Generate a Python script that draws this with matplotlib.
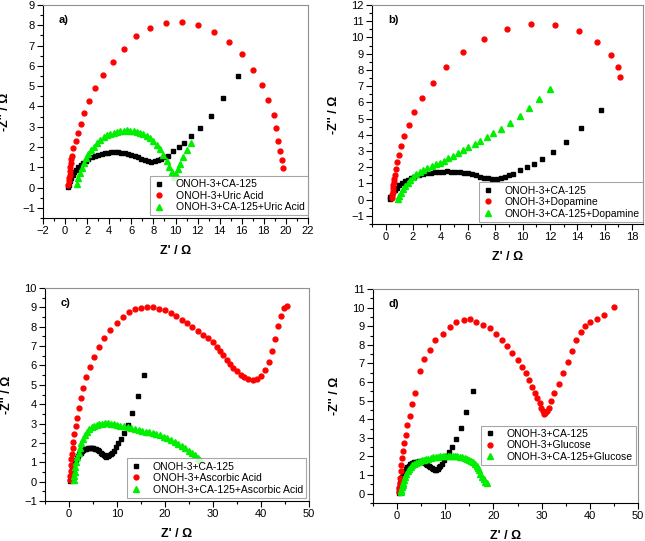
import matplotlib
matplotlib.use("Agg")
import matplotlib.pyplot as plt
from matplotlib.ticker import MultipleLocator

plt.rcParams['font.family'] = ['Liberation Sans', 'DejaVu Sans']

# ONOH-3+CA-125 (same curve in all four panels)
ca_x = [0.3, 0.35, 0.45, 0.55, 0.7, 0.85, 1.0, 1.2, 1.4, 1.6, 1.85, 2.1, 2.4, 2.7, 3.0, 3.3, 3.6, 3.9,
        4.2, 4.5, 4.8, 5.1, 5.4, 5.7, 6.0, 6.3, 6.6, 6.9, 7.2, 7.5, 7.8, 8.1, 8.4, 8.7, 9.0, 9.3,
        9.8, 10.3, 10.8, 11.4, 12.2, 13.2, 14.3, 15.7]
ca_y = [0.05, 0.15, 0.3, 0.45, 0.6, 0.75, 0.88, 1.0, 1.12, 1.22, 1.32, 1.42, 1.5, 1.57, 1.63, 1.67, 1.7, 1.72,
        1.73, 1.74, 1.73, 1.72, 1.7, 1.67, 1.62, 1.56, 1.49, 1.42, 1.36, 1.31, 1.28, 1.3, 1.35, 1.42, 1.5, 1.58,
        1.8, 2.0, 2.22, 2.52, 2.95, 3.55, 4.4, 5.5]

# a) uric acid
ua_x = [0.3, 0.33, 0.37, 0.4, 0.43, 0.47, 0.5, 0.55, 0.6, 0.75, 0.95, 1.15, 1.4, 1.75, 2.2, 2.75, 3.4,
        4.3, 5.3, 6.4, 7.7, 9.1, 10.6, 12.05, 13.5, 14.8, 16.0, 17.0, 17.8, 18.4, 18.9, 19.1, 19.3, 19.45,
        19.6, 19.75]
ua_y = [0.15, 0.3, 0.45, 0.6, 0.8, 1.0, 1.2, 1.4, 1.58, 1.96, 2.32, 2.71, 3.15, 3.69, 4.27, 4.89, 5.55,
        6.2, 6.85, 7.46, 7.86, 8.11, 8.14, 7.99, 7.65, 7.18, 6.56, 5.81, 5.04, 4.3, 3.57, 2.92, 2.32, 1.81,
        1.37, 0.96]
caua_x = [1.1, 1.2, 1.35, 1.5, 1.7, 1.9, 2.1, 2.35, 2.6, 2.9, 3.2, 3.5, 3.8, 4.1, 4.4, 4.7, 5.0, 5.3, 5.6,
          5.9, 6.2, 6.5, 6.8, 7.1, 7.4, 7.7, 8.0, 8.3, 8.6, 8.9, 9.2, 9.45, 9.65, 9.85, 9.95, 10.05, 10.25,
          10.45, 10.7, 11.0, 11.4]
caua_y = [0.2, 0.45, 0.7, 0.95, 1.2, 1.45, 1.65, 1.85, 2.02, 2.2, 2.35, 2.47, 2.57, 2.65, 2.71, 2.76, 2.79,
          2.81, 2.82, 2.81, 2.79, 2.76, 2.71, 2.64, 2.55, 2.44, 2.3, 2.12, 1.9, 1.63, 1.3, 1.0, 0.75, 0.55,
          0.5, 0.65, 0.9, 1.15, 1.5, 1.85, 2.2]

# b) dopamine
dop_x = [0.45, 0.47, 0.5, 0.52, 0.55, 0.58, 0.62, 0.68, 0.75, 0.85, 0.97, 1.14, 1.36, 1.68, 2.09, 2.68,
         3.45, 4.43, 5.67, 7.15, 8.83, 10.65, 12.4, 14.1, 15.45, 16.45, 17.0, 17.1]
dop_y = [0.1, 0.3, 0.5, 0.7, 0.9, 1.1, 1.3, 1.54, 1.9, 2.3, 2.77, 3.32, 3.9, 4.6, 5.39, 6.26,
         7.2, 8.16, 9.09, 9.89, 10.5, 10.81, 10.77, 10.4, 9.7, 8.92, 8.16, 7.59]
cadop_x = [0.9, 1.0, 1.12, 1.27, 1.42, 1.6, 1.8, 2.0, 2.25, 2.5, 2.75, 3.05, 3.35, 3.65, 3.95, 4.26, 4.57,
           4.91, 5.3, 5.67, 6.03, 6.5, 6.89, 7.42, 7.86, 8.42, 9.07, 9.78, 10.46, 11.2, 12.0]
cadop_y = [0.05, 0.22, 0.43, 0.64, 0.85, 1.05, 1.24, 1.4, 1.56, 1.7, 1.83, 1.95, 2.06, 2.17, 2.28, 2.38,
           2.54, 2.71, 2.87, 3.04, 3.24, 3.43, 3.63, 3.86, 4.1, 4.37, 4.72, 5.17, 5.64, 6.19, 6.81]

# c) ascorbic acid
asc_x = [0.25, 0.3, 0.35, 0.4, 0.5, 0.6, 0.75, 0.9, 1.1, 1.4, 1.7, 2.1, 2.5, 3.0, 3.6, 4.4, 5.3, 6.3,
         7.3, 8.6, 10.0, 11.3, 12.5, 13.8, 15.0, 16.3, 17.5, 18.8, 20.0, 21.2, 22.3, 23.5, 24.6, 25.7,
         26.8, 27.9, 29.0, 29.93, 30.76, 31.46, 32.15, 32.85, 33.54, 34.24, 35.07, 35.76, 36.5, 37.36,
         38.26, 39.1, 40.0, 40.9, 41.67, 42.36, 43.0, 43.6, 44.2, 44.8, 45.35]
asc_y = [0.1, 0.3, 0.55, 0.85, 1.15, 1.45, 1.75, 2.05, 2.45, 2.85, 3.3, 3.78, 4.3, 4.82, 5.38, 5.92, 6.45,
         6.97, 7.42, 7.82, 8.2, 8.5, 8.75, 8.9, 8.98, 9.0, 9.0, 8.93, 8.84, 8.7, 8.55, 8.37, 8.18, 7.98,
         7.78, 7.58, 7.4, 7.2, 6.97, 6.76, 6.52, 6.29, 6.07, 5.86, 5.69, 5.52, 5.38, 5.28,
         5.24, 5.3, 5.47, 5.78, 6.2, 6.76, 7.38, 8.02, 8.57, 8.97, 9.05]
caasc_x = [1.0, 1.1, 1.2, 1.35, 1.5, 1.75, 2.0, 2.3, 2.6, 2.95, 3.3, 3.75, 4.2, 4.7, 5.2, 5.75, 6.3, 6.9,
           7.5, 8.1, 8.7, 9.3, 10.0, 10.7, 11.5, 12.2, 13.0, 13.7, 14.5, 15.2, 16.0, 16.7, 17.5, 18.2,
           19.0, 19.7, 20.5, 21.2, 22.0, 22.7, 23.5, 24.2, 25.0, 25.6, 26.3, 26.8, 27.2]
caasc_y = [0.1, 0.3, 0.5, 0.75, 1.0, 1.25, 1.5, 1.75, 2.0, 2.2, 2.4, 2.55, 2.7, 2.8, 2.88, 2.94, 2.98, 3.0,
           3.02, 3.02, 3.0, 2.97, 2.93, 2.89, 2.85, 2.8, 2.75, 2.7, 2.65, 2.62, 2.58, 2.54, 2.5, 2.45,
           2.4, 2.33, 2.25, 2.15, 2.05, 1.95, 1.85, 1.73, 1.6, 1.48, 1.35, 1.22, 1.1]

# d) glucose
glu_x = [0.3, 0.4, 0.5, 0.6, 0.75, 0.9, 1.05, 1.25, 1.5, 1.8, 2.1, 2.6, 3.1, 3.7, 4.7, 5.65, 6.8, 7.9,
         9.45, 10.9, 12.3, 13.9, 15.1, 16.4, 17.9, 19.2, 20.5, 21.8, 22.8, 23.9, 25.0, 25.9, 26.7, 27.4,
         28.1, 28.6, 29.1, 29.6, 29.9, 30.2, 30.55, 30.8, 31.1, 31.5, 31.9, 32.6, 33.5, 34.4, 35.4, 36.3,
         37.2, 38.1, 39.1, 40.1, 41.45, 42.97, 44.97]
glu_y = [0.1, 0.3, 0.55, 0.85, 1.2, 1.55, 1.9, 2.28, 2.7, 3.17, 3.67, 4.2, 4.8, 5.43, 6.62, 7.24, 7.74, 8.24,
         8.59, 8.95, 9.22, 9.34, 9.38, 9.24, 9.07, 8.9, 8.6, 8.27, 7.95, 7.58, 7.2, 6.83, 6.46, 6.09,
         5.73, 5.43, 5.12, 4.89, 4.63, 4.45, 4.3, 4.35, 4.45, 4.63, 4.98, 5.43, 5.9, 6.46, 7.06, 7.69,
         8.26, 8.68, 9.02, 9.22, 9.4, 9.6, 10.02]
caglu_x = [0.8, 0.9, 1.0, 1.15, 1.3, 1.5, 1.7, 1.95, 2.2, 2.5, 2.8, 3.15, 3.5, 3.9, 4.3, 4.7, 5.1, 5.55,
           6.0, 6.5, 7.0, 7.5, 8.0, 8.5, 9.0, 9.5, 10.0, 10.5, 11.0, 11.5, 12.0, 12.5, 13.0, 13.5, 14.0,
           14.5, 15.0, 15.4, 15.8, 16.2, 16.5, 16.8, 17.0, 17.3, 17.6, 18.0, 18.3, 18.6]
caglu_y = [0.1, 0.22, 0.35, 0.48, 0.6, 0.75, 0.9, 1.05, 1.2, 1.32, 1.42, 1.52, 1.6, 1.67, 1.72, 1.76, 1.8,
           1.83, 1.86, 1.89, 1.92, 1.95, 1.97, 1.99, 2.0, 2.02, 2.03, 2.04, 2.04, 2.03, 2.02, 2.0, 1.98,
           1.95, 1.92, 1.88, 1.83, 1.77, 1.7, 1.6, 1.5, 1.4, 1.3, 1.05, 0.9, 0.78, 0.65, 0.55]

W, H = 645, 541
fig = plt.figure(figsize=(W / 100, H / 100), dpi=100)


def box(l, t, r, b):
    return [l / W, 1 - b / H, (r - l) / W, (b - t) / H]


panels = [
    (box(43, 5, 308, 218), 'a)', (caua_x, caua_y, ua_x, ua_y), 'Uric Acid',
     (-2, 22), (-1.5, 9), 2, 1, (1.0, 0.012)),
    (box(372, 5, 643, 224), 'b)', (cadop_x, cadop_y, dop_x, dop_y), 'Dopamine',
     (-1, 18.8), (-1.5, 12), 2, 1, (1.0, 0.01)),
    (box(45, 288, 309, 501), 'c)', (caasc_x, caasc_y, asc_x, asc_y), 'Ascorbic Acid',
     (-5, 50), (-1, 10), 10, 5, (0.99, 0.015)),
    (box(373, 289, 638, 503), 'd)', (caglu_x, caglu_y, glu_x, glu_y), 'Glucose',
     (-5, 50), (-0.5, 11), 10, 5, (0.992, 0.178)),
]

for rect, tag, (gx, gy, rx, ry), name, xl, yl, xmaj, xmin, anchor in panels:
    ax = fig.add_axes(rect)
    ax.plot(ca_x, ca_y, 's', color='black', markersize=3, label='ONOH-3+CA-125')
    ax.plot(rx, ry, 'o', color='red', markersize=3.5, label='ONOH-3+' + name)
    ax.plot(gx, gy, '^', color='#00ee00', markersize=4, label='ONOH-3+CA-125+' + name)
    ax.set_xlim(xl)
    ax.set_ylim(yl)
    ax.xaxis.set_major_locator(MultipleLocator(xmaj))
    ax.xaxis.set_minor_locator(MultipleLocator(xmin))
    ax.yaxis.set_major_locator(MultipleLocator(1))
    ax.yaxis.set_minor_locator(MultipleLocator(0.5))
    ax.tick_params(which='major', direction='out', length=4, width=0.8, labelsize=8, pad=2)
    ax.tick_params(which='minor', direction='out', length=2, width=0.8)
    for s in ['top', 'right']:
        ax.spines[s].set_color('#909090')
    ax.set_xlabel("Z' / \u03a9", fontsize=9, fontweight='bold', labelpad=6)
    ax.set_ylabel("-Z'' / \u03a9", fontsize=9, fontweight='bold', labelpad=8)
    ax.text(0.06, 0.93, tag, transform=ax.transAxes, fontsize=8, fontweight='bold', va='center')
    leg = ax.legend(loc='lower right', bbox_to_anchor=anchor, borderaxespad=0, fontsize=7.5,
                    frameon=True, fancybox=False, edgecolor='#909090', handlelength=1.2,
                    handletextpad=1.0, labelspacing=0.15, borderpad=0.3)
    leg.get_frame().set_linewidth(0.8)

fig.savefig('out.png', dpi=100)
